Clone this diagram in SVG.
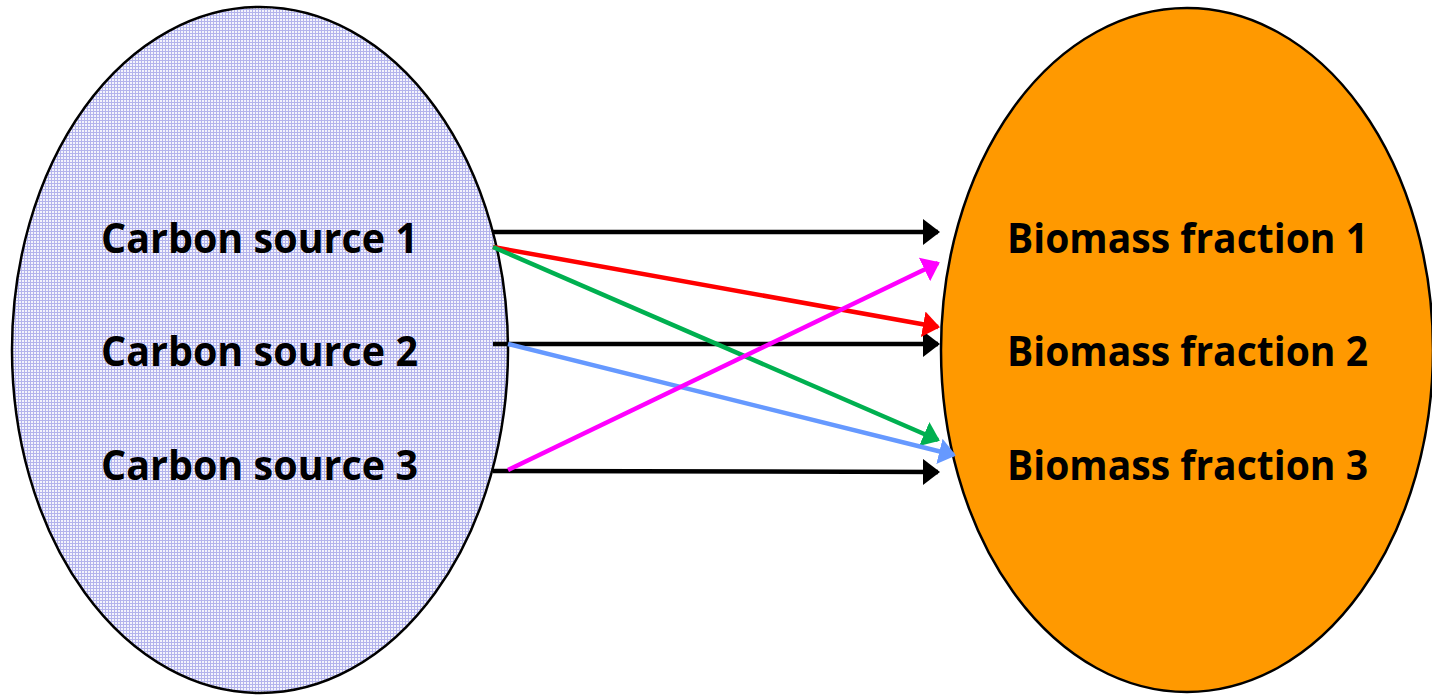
<svg xmlns="http://www.w3.org/2000/svg" width="1432" height="695" viewBox="0 0 1432 695">
  <style>
    .label { font-family: "Open Sans", Lato, "Liberation Sans", sans-serif; font-weight: bold; font-size: 42px; fill: #000; font-variant-ligatures: none; }
    .oval { stroke: #000; stroke-width: 2.5; }
    .flow { fill: none; stroke-width: 4.5; }
  </style>
  <defs>
    <!-- fine blue cross-hatch used for the carbon source oval -->
    <pattern id="grid" width="3" height="3" patternUnits="userSpaceOnUse">
      <rect width="3" height="3" fill="#f3f3fc"/>
      <rect x="0" y="0" width="1" height="3" fill="#b3b3ec"/>
      <rect x="0" y="0" width="3" height="1" fill="#b3b3ec"/>
    </pattern>
    <marker id="ah-black" viewBox="0 0 17 26" refX="15" refY="13" markerWidth="17" markerHeight="26" markerUnits="userSpaceOnUse" orient="auto">
      <path d="M0,0 L17,13 L0,26 z" fill="#000"/>
    </marker>
    <marker id="ah-red" viewBox="0 0 17 26" refX="15" refY="13" markerWidth="17" markerHeight="26" markerUnits="userSpaceOnUse" orient="auto">
      <path d="M0,0 L17,13 L0,26 z" fill="#ff0000"/>
    </marker>
    <marker id="ah-green" viewBox="0 0 17 26" refX="15" refY="13" markerWidth="17" markerHeight="26" markerUnits="userSpaceOnUse" orient="auto">
      <path d="M0,0 L17,13 L0,26 z" fill="#00b050"/>
    </marker>
    <marker id="ah-blue" viewBox="0 0 17 26" refX="15" refY="13" markerWidth="17" markerHeight="26" markerUnits="userSpaceOnUse" orient="auto">
      <path d="M0,0 L17,13 L0,26 z" fill="#6699ff"/>
    </marker>
    <marker id="ah-magenta" viewBox="0 0 17 26" refX="15" refY="13" markerWidth="17" markerHeight="26" markerUnits="userSpaceOnUse" orient="auto">
      <path d="M0,0 L17,13 L0,26 z" fill="#ff00ff"/>
    </marker>
  </defs>

  <rect width="1432" height="695" fill="#ffffff"/>

  <g id="carbon-sources">
    <ellipse class="oval" cx="260" cy="350" rx="248" ry="343" fill="url(#grid)"/>
    <text class="label" x="101" y="253" textLength="317" lengthAdjust="spacingAndGlyphs">Carbon source 1</text>
    <text class="label" x="101" y="366" textLength="317" lengthAdjust="spacingAndGlyphs">Carbon source 2</text>
    <text class="label" x="101" y="480" textLength="317" lengthAdjust="spacingAndGlyphs">Carbon source 3</text>
  </g>

  <g id="biomass-fractions">
    <ellipse class="oval" cx="1187" cy="350" rx="246" ry="342" fill="#ff9900"/>
    <text class="label" x="1007" y="253" textLength="361" lengthAdjust="spacingAndGlyphs">Biomass fraction 1</text>
    <text class="label" x="1007" y="366" textLength="361" lengthAdjust="spacingAndGlyphs">Biomass fraction 2</text>
    <text class="label" x="1007" y="480" textLength="361" lengthAdjust="spacingAndGlyphs">Biomass fraction 3</text>
  </g>

  <g id="connectors">
    <line class="flow" x1="493" y1="232" x2="938" y2="232" stroke="#000" marker-end="url(#ah-black)"/>
    <line class="flow" x1="493" y1="344" x2="938" y2="344" stroke="#000" marker-end="url(#ah-black)"/>
    <line class="flow" x1="493" y1="471" x2="938" y2="472" stroke="#000" marker-end="url(#ah-black)"/>
    <line class="flow" x1="493" y1="247" x2="938" y2="327" stroke="#ff0000" marker-end="url(#ah-red)"/>
    <line class="flow" x1="493" y1="247" x2="938" y2="440" stroke="#00b050" marker-end="url(#ah-green)"/>
    <line class="flow" x1="508" y1="344" x2="954" y2="455" stroke="#6699ff" marker-end="url(#ah-blue)"/>
    <line class="flow" x1="508" y1="470" x2="938" y2="263" stroke="#ff00ff" marker-end="url(#ah-magenta)"/>
  </g>
</svg>
